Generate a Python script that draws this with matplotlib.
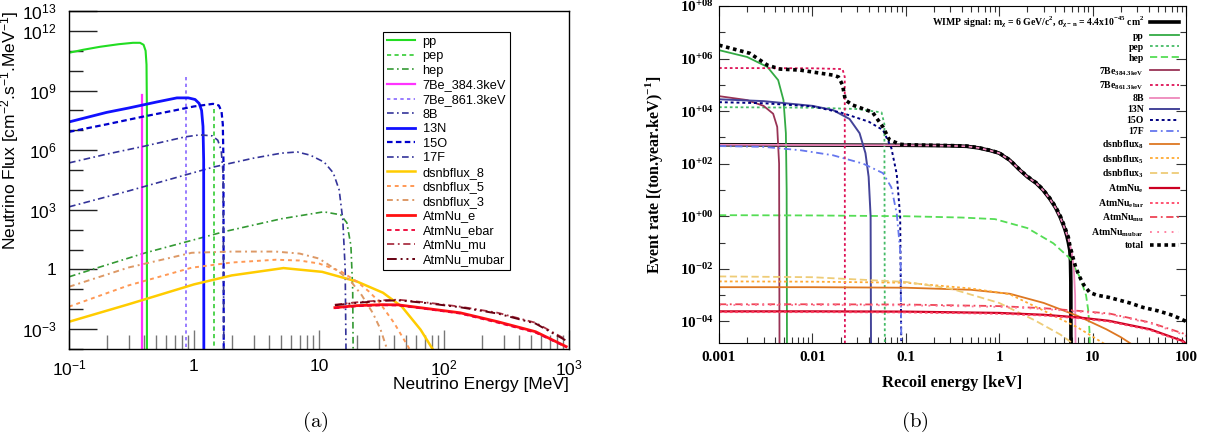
import numpy as np
import matplotlib
matplotlib.use('Agg')
from matplotlib import pyplot as plt
from matplotlib.ticker import FixedLocator, FixedFormatter, LogLocator, NullFormatter

plt.rcParams['font.family'] = 'Liberation Sans'
plt.rcParams['mathtext.fontset'] = 'custom'
plt.rcParams['mathtext.rm'] = 'Liberation Sans'
plt.rcParams['mathtext.it'] = 'Liberation Sans:italic'
plt.rcParams['mathtext.bf'] = 'Liberation Serif:bold'

# ---------------- (a) neutrino fluxes : E [MeV], log10(flux)
pp_E = [0.1, 0.13, 0.177, 0.25, 0.325, 0.37, 0.395, 0.41, 0.417, 0.42, 0.4201]
pp_lgF = [10.9, 11.05, 11.2, 11.33, 11.4, 11.4, 11.3, 11.0, 10.3, 8.0, -5]
pep_E = [1.442, 1.442]
pep_lgF = [8.05, -5]
hep_E = [0.1, 0.17, 0.41, 1.74, 5, 10.9, 14.9, 16.7, 18.0, 18.6, 18.8]
hep_lgF = [-0.37, 0.09, 0.84, 1.9, 2.55, 2.9, 2.75, 2.35, 1.2, -1, -5]
be384_E = [0.3843, 0.3843]
be384_lgF = [8.8, -5]
be861_E = [0.8613, 0.8613]
be861_lgF = [9.7, -5]
b8_E = [0.1, 0.3, 0.86, 1.45, 3, 5, 6.7, 8.5, 11, 13, 14.5, 15.5, 16.2, 16.5]
b8_lgF = [3.15, 3.95, 4.76, 5.16, 5.6, 5.85, 5.91, 5.75, 5.4, 4.86, 4.0, 2.5, 0, -5]
n13_E = [0.1, 0.2, 0.3, 0.5, 0.73, 0.9, 1.02, 1.1, 1.15, 1.18, 1.195, 1.199]
n13_lgF = [7.42, 7.9, 8.12, 8.42, 8.63, 8.63, 8.55, 8.35, 8.0, 7.2, 5.5, -5]
o15_E = [0.1, 0.2, 0.4, 0.7, 1.0, 1.42, 1.58, 1.66, 1.70, 1.72, 1.73]
o15_lgF = [6.92, 7.3, 7.7, 8.0, 8.2, 8.33, 8.25, 7.95, 7.3, 5.5, -5]
f17_E = [0.1, 0.2, 0.4, 0.85, 1.11, 1.4, 1.55, 1.65, 1.71, 1.735]
f17_lgF = [5.36, 5.8, 6.2, 6.67, 6.77, 6.72, 6.5, 6.0, 4.8, -5]
dsnb8_E = [0.1, 0.3, 1, 2, 5.2, 10.6, 20, 32.5, 46, 65, 81]
dsnb8_lgF = [-2.63, -1.75, -0.75, -0.3, 0.07, -0.12, -0.6, -1.17, -1.87, -3.03, -4.0]
dsnb5_E = [0.1, 0.3, 0.96, 2, 4.5, 7, 10, 15, 20, 25, 30, 40, 53]
dsnb5_lgF = [-1.87, -0.8, 0.09, 0.35, 0.49, 0.45, 0.3, -0.1, -0.6, -1.1, -1.6, -2.7, -4.0]
dsnb3_E = [0.1, 0.3, 0.96, 2, 4.5, 7, 10, 14, 18, 22, 27, 31, 35]
dsnb3_lgF = [-0.87, 0.1, 0.84, 0.9, 0.9, 0.8, 0.55, -0.05, -0.6, -1.3, -2.2, -3.0, -4.0]
atm_E = [13.4, 20, 32, 43, 70, 135, 270, 540, 950]
atm_e_lgF = [-1.92, -1.82, -1.77, -1.78, -1.95, -2.18, -2.63, -3.13, -3.88]
atm_ebar_lgF = [-1.95, -1.85, -1.8, -1.81, -1.98, -2.22, -2.68, -3.18, -3.9]
atm_mu_lgF = [-1.77, -1.65, -1.55, -1.52, -1.65, -1.87, -2.18, -2.68, -3.53]
atm_mubar_lgF = [-1.8, -1.68, -1.58, -1.55, -1.68, -1.9, -2.22, -2.72, -3.58]

# ---------------- (b) event rates : recoil E [keV], log10(rate)
wimp_E = [0.001, 0.01, 0.1, 0.2, 0.3, 0.45, 0.6, 0.8, 1.0, 1.3, 1.67, 2.0, 2.5, 2.94,
          3.5, 4.0, 4.5, 5.0, 5.3, 5.5, 5.7, 5.8, 5.85, 5.87]
wimp_lgR = [2.72, 2.71, 2.70, 2.69, 2.68, 2.66, 2.6, 2.5, 2.4, 2.13, 1.75, 1.5, 1.25, 1.0,
            0.65, 0.33, -0.04, -0.45, -0.75, -1.0, -1.3, -1.7, -2.5, -6]
r_pp_E = [0.001, 0.002, 0.0033, 0.0043, 0.0049, 0.0052, 0.0053, 0.00535]
r_pp_lgR = [6.32, 6.06, 5.68, 5.18, 4.42, 3.16, 1.0, -6]
r_pep_E = [0.001, 0.01, 0.03, 0.055, 0.059, 0.0597]
r_pep_lgR = [4.15, 4.13, 4.08, 3.95, 3.5, -6]
r_hep_E = [0.001, 0.01, 0.1, 0.4, 0.9, 2, 3.8, 5.7, 7.3, 8.5, 9.0, 9.3, 9.35]
r_hep_lgR = [0.04, 0.03, 0.0, -0.05, -0.11, -0.45, -1.03, -1.6, -2.32, -3.0, -3.6, -4.5, -6]
r_be384_E = [0.001, 0.002, 0.003, 0.0038, 0.0042, 0.0044, 0.00445]
r_be384_lgR = [4.57, 4.42, 4.2, 3.9, 3.4, 2.0, -6]
r_be861_E = [0.001, 0.01, 0.021, 0.0222, 0.0223]
r_be861_lgR = [5.64, 5.63, 5.6, 5.3, -6]
r_b8_E = [0.001, 0.01, 0.1, 0.2, 0.3, 0.45, 0.6, 0.8, 1.0, 1.3, 1.67, 2.0, 2.5, 2.94,
          3.5, 4.0, 4.5, 5.0, 5.5, 6.0, 6.3, 6.5, 6.6]
r_b8_lgR = [2.72, 2.71, 2.70, 2.69, 2.68, 2.66, 2.6, 2.5, 2.4, 2.13, 1.75, 1.5, 1.25, 1.0,
            0.65, 0.33, -0.04, -0.45, -0.85, -1.4, -2.0, -3.0, -6]
r_n13_E = [0.001, 0.003, 0.01, 0.0166, 0.025, 0.032, 0.037, 0.040, 0.042, 0.0425]
r_n13_lgR = [4.45, 4.38, 4.2, 4.04, 3.7, 3.16, 2.4, 1.5, 0.0, -6]
r_o15_E = [0.001, 0.003, 0.01, 0.02, 0.04, 0.057, 0.07, 0.08, 0.087, 0.09]
r_o15_lgR = [4.34, 4.3, 4.18, 3.95, 3.6, 3.28, 2.6, 1.6, 0.0, -6]
r_f17_E = [0.001, 0.003, 0.0075, 0.0166, 0.035, 0.057, 0.07, 0.08, 0.088, 0.09]
r_f17_lgR = [2.67, 2.64, 2.51, 2.32, 2.0, 1.64, 1.1, 0.1, -1.5, -6]
r_dsnb8_E = [0.001, 0.01, 0.1, 0.5, 1.3, 3, 7, 14, 20, 27]
r_dsnb8_lgR = [-2.7, -2.7, -2.72, -2.8, -2.95, -3.3, -3.8, -4.3, -4.6, -4.9]
r_dsnb5_E = [0.001, 0.01, 0.1, 0.5, 1.3, 2.94, 6.9, 14]
r_dsnb5_lgR = [-2.48, -2.49, -2.53, -2.75, -2.97, -3.58, -4.23, -4.9]
r_dsnb3_E = [0.001, 0.01, 0.1, 0.3, 1.0, 2.4, 4.5, 6.5]
r_dsnb3_lgR = [-2.29, -2.32, -2.5, -2.75, -3.3, -3.96, -4.5, -4.9]
r_atm_E = [0.001, 0.01, 0.1, 1, 3, 7, 15, 41, 93, 100]
r_atm_e_lgR = [-3.62, -3.62, -3.63, -3.68, -3.75, -3.85, -3.98, -4.3, -4.75, -4.85]
r_atm_ebar_lgR = [-3.65, -3.65, -3.66, -3.71, -3.78, -3.88, -4.01, -4.33, -4.78, -4.88]
r_atm_mu_lgR = [-3.35, -3.35, -3.36, -3.42, -3.5, -3.6, -3.7, -4.04, -4.46, -4.52]
r_atm_mubar_lgR = [-3.38, -3.38, -3.39, -3.45, -3.53, -3.63, -3.73, -4.07, -4.5, -4.56]
total_E = [0.001, 0.00214, 0.0033, 0.0045, 0.0074, 0.0166, 0.019, 0.021, 0.0225, 0.027,
           0.044, 0.057, 0.067, 0.087, 0.1, 0.2, 0.3, 0.45, 0.6, 0.8, 1.0, 1.3, 1.67, 2.0,
           2.5, 2.94, 3.5, 4.0, 4.5, 5.0, 5.5, 5.7, 6.2, 6.6, 7.3, 8.0, 9.3, 11, 15, 25,
           34.7, 50, 72, 100]
total_lgR = [6.51, 6.2, 5.75, 5.6, 5.56, 5.37, 5.3, 5.0, 4.42, 4.23,
             3.96, 3.39, 2.9, 2.74, 2.72, 2.70, 2.69, 2.67, 2.61, 2.51, 2.41, 2.14, 1.76, 1.52,
             1.27, 1.02, 0.68, 0.37, 0.02, -0.38, -0.8, -1.1, -1.6, -1.95, -2.32, -2.6, -2.9,
             -3.0, -3.09, -3.3, -3.47, -3.6, -3.77, -4.0]

fig = plt.figure(figsize=(12.21, 4.43), dpi=100)

# ================= panel (a)
ax1 = fig.add_axes([69/1221, 1-349/443, 500/1221, 338/443])
left_series = [
    (pp_E, pp_lgF, 'pp', '#22dd22', '-', 1.5),
    (pep_E, pep_lgF, 'pep', '#33cc33', (0, (2.5, 2)), 1.2),
    (hep_E, hep_lgF, 'hep', '#339933', (0, (4, 2, 1, 2)), 1.2),
    (be384_E, be384_lgF, '7Be_384.3keV', '#ff33ff', '-', 1.6),
    (be861_E, be861_lgF, '7Be_861.3keV', '#8866ff', (0, (2, 2)), 1.2),
    (b8_E, b8_lgF, '8B', '#333399', (0, (4, 2, 1, 2)), 1.2),
    (n13_E, n13_lgF, '13N', '#1111ff', '-', 2.0),
    (o15_E, o15_lgF, '15O', '#0000cc', (0, (2.5, 1.5)), 1.6),
    (f17_E, f17_lgF, '17F', '#333399', (0, (4, 2, 1, 2)), 1.2),
    (dsnb8_E, dsnb8_lgF, 'dsnbflux_8', '#ffcc00', '-', 1.8),
    (dsnb5_E, dsnb5_lgF, 'dsnbflux_5', '#ff9955', (0, (2, 2)), 1.4),
    (dsnb3_E, dsnb3_lgF, 'dsnbflux_3', '#dd9966', (0, (3, 2, 1, 2)), 1.4),
    (atm_E, atm_e_lgF, 'AtmNu_e', '#ff1111', '-', 2.0),
    (atm_E, atm_ebar_lgF, 'AtmNu_ebar', '#ee0033', (0, (2.5, 2)), 1.3),
    (atm_E, atm_mu_lgF, 'AtmNu_mu', '#aa3344', (0, (4, 2, 1, 2)), 1.3),
    (atm_E, atm_mubar_lgF, 'AtmNu_mubar', '#660011', (0, (5, 2, 1, 2, 1, 2)), 1.4),
]
for E, lg, lab, col, ls, lw in left_series:
    ax1.plot(E, 10.0**np.array(lg), color=col, linestyle=ls, linewidth=lw, label=lab)

ax1.set_xscale('log')
ax1.set_yscale('log')
ax1.set_xlim(0.1, 1000)
ax1.set_ylim(1e-4, 1e13)
ax1.xaxis.set_major_locator(FixedLocator([0.1, 1, 10, 100, 1000]))
ax1.xaxis.set_major_formatter(FixedFormatter(['10$^{-1}$', '1', '10', '10$^{2}$', '10$^{3}$']))
ax1.xaxis.set_minor_locator(LogLocator(base=10, subs=range(2, 10), numticks=50))
ax1.xaxis.set_minor_formatter(NullFormatter())
ax1.yaxis.set_major_locator(FixedLocator([1e-3, 1, 1e3, 1e6, 1e9, 1e12, 1e13]))
ax1.yaxis.set_major_formatter(FixedFormatter(['10$^{-3}$', '1', '10$^{3}$', '10$^{6}$',
                                              '10$^{9}$', '10$^{12}$', '10$^{13}$']))
ax1.yaxis.set_minor_locator(FixedLocator([10.0**k for k in range(-4, 13)]))
ax1.yaxis.set_minor_formatter(NullFormatter())
ax1.tick_params(axis='x', which='both', direction='in', colors='#777777', labelcolor='black',
                labelsize=12.5, pad=7)
ax1.tick_params(axis='x', which='major', length=14, width=1)
ax1.tick_params(axis='x', which='minor', length=10, width=1)
ax1.tick_params(axis='y', which='both', direction='in', color='#222222', labelsize=12.5, pad=9)
ax1.tick_params(axis='y', which='major', length=20, width=1)
ax1.tick_params(axis='y', which='minor', length=10, width=1)
for s in ax1.spines.values():
    s.set_linewidth(1.0)
ax1.set_xlabel('Neutrino Energy [MeV]', fontsize=12.5, loc='right')
ax1.xaxis.set_label_coords(1.0, -0.082)
ax1.set_ylabel('Neutrino Flux [cm$^{-2}$.s$^{-1}$.MeV$^{-1}$]', fontsize=12.5, loc='top')
ax1.yaxis.set_label_coords(-0.095, 1.0)
leg1 = ax1.legend(loc='upper left', bbox_to_anchor=(0.628, 0.938), fontsize=9.2,
                  handlelength=2.2, handletextpad=0.6, labelspacing=0.2, borderpad=0.3,
                  borderaxespad=0, frameon=True, fancybox=False, edgecolor='black',
                  framealpha=1)
leg1.get_frame().set_linewidth(0.8)

# ================= panel (b)
ax2 = fig.add_axes([719/1221, 1-343/443, 467/1221, 337/443])
wimp_label = (r'WIMP signal: m$_{\mathbf{\chi}}$ = 6 GeV/c$^{\mathbf{2}}$, '
              r'$\mathbf{\sigma_{\chi-n}}$ = 4.4x10$^{\mathbf{-45}}$ cm$^{\mathbf{2}}$')
right_series = [
    (wimp_E, wimp_lgR, wimp_label, 'black', '-', 2.6),
    (r_pp_E, r_pp_lgR, 'pp', '#33aa44', '-', 1.3),
    (r_pep_E, r_pep_lgR, 'pep', '#44bb66', (0, (1.5, 1.5)), 1.3),
    (r_hep_E, r_hep_lgR, 'hep', '#55dd55', (0, (4, 2)), 1.3),
    (r_be384_E, r_be384_lgR, '7Be$_{\\mathbf{384.3keV}}$', '#993355', '-', 1.3),
    (r_be861_E, r_be861_lgR, '7Be$_{\\mathbf{861.3keV}}$', '#dd1155', (0, (1.5, 1.5)), 1.3),
    (r_b8_E, r_b8_lgR, '8B', '#ee88bb', '-', 1.3),
    (r_n13_E, r_n13_lgR, '13N', '#444499', '-', 1.4),
    (r_o15_E, r_o15_lgR, '15O', '#000080', (0, (1.5, 1.5)), 1.4),
    (r_f17_E, r_f17_lgR, '17F', '#6677ee', (0, (4, 2, 1, 2)), 1.3),
    (r_dsnb8_E, r_dsnb8_lgR, 'dsnbflux$_{\\mathbf{8}}$', '#dd7722', '-', 1.3),
    (r_dsnb5_E, r_dsnb5_lgR, 'dsnbflux$_{\\mathbf{5}}$', '#ffaa33', (0, (1.5, 1.5)), 1.3),
    (r_dsnb3_E, r_dsnb3_lgR, 'dsnbflux$_{\\mathbf{3}}$', '#eecc77', (0, (4, 2)), 1.3),
    (r_atm_E, r_atm_e_lgR, 'AtmNu$_{\\mathbf{e}}$', '#cc0022', '-', 1.6),
    (r_atm_E, r_atm_ebar_lgR, 'AtmNu$_{\\mathbf{ebar}}$', '#ff4466', (0, (1.5, 1.5)), 1.3),
    (r_atm_E, r_atm_mu_lgR, 'AtmNu$_{\\mathbf{mu}}$', '#ee4455', (0, (4, 2, 1, 2)), 1.3),
    (r_atm_E, r_atm_mubar_lgR, 'AtmNu$_{\\mathbf{mubar}}$', '#ff7799', (0, (1, 3)), 1.3),
    (total_E, total_lgR, 'total', 'black', (0, (1, 1)), 2.6),
]
for E, lg, lab, col, ls, lw in right_series:
    ax2.plot(E, 10.0**np.array(lg), color=col, linestyle=ls, linewidth=lw, label=lab)

ax2.set_xscale('log')
ax2.set_yscale('log')
ax2.set_xlim(0.001, 100)
ax2.set_ylim(1.5e-5, 1e8)
ax2.xaxis.set_major_locator(FixedLocator([0.001, 0.01, 0.1, 1, 10, 100]))
ax2.xaxis.set_major_formatter(FixedFormatter(['0.001', '0.01', '0.1', '1', '10', '100']))
ax2.xaxis.set_minor_locator(LogLocator(base=10, subs=range(2, 10), numticks=50))
ax2.xaxis.set_minor_formatter(NullFormatter())
ax2.yaxis.set_major_locator(FixedLocator([1e-4, 1e-2, 1, 1e2, 1e4, 1e6, 1e8]))
ax2.yaxis.set_major_formatter(FixedFormatter([r'$\mathbf{10^{-04}}$', r'$\mathbf{10^{-02}}$',
                                              r'$\mathbf{10^{+00}}$', r'$\mathbf{10^{+02}}$',
                                              r'$\mathbf{10^{+04}}$', r'$\mathbf{10^{+06}}$',
                                              r'$\mathbf{10^{+08}}$']))
ax2.yaxis.set_minor_locator(FixedLocator([1e-3, 0.1, 10, 1e3, 1e5, 1e7]))
ax2.yaxis.set_minor_formatter(NullFormatter())
ax2.tick_params(which='both', direction='in', top=True, right=True, color='#333333',
                labelsize=11, width=0.8)
ax2.tick_params(which='major', length=7)
ax2.tick_params(which='minor', length=4)
ax2.tick_params(axis='x', pad=6)
ax2.tick_params(axis='y', pad=4)
for lab in ax2.get_xticklabels():
    lab.set_fontfamily('Liberation Serif')
    lab.set_fontweight('bold')
ax2.set_xlabel('Recoil energy [keV]', fontsize=12, fontfamily='Liberation Serif',
               fontweight='bold')
ax2.xaxis.set_label_coords(0.5, -0.095)
ax2.set_ylabel(r'Event rate [(ton.year.keV)$^{\mathbf{-1}}$]', fontsize=11.5,
               fontfamily='Liberation Serif', fontweight='bold')
ax2.yaxis.set_label_coords(-0.115, 0.5)
leg2 = ax2.legend(loc='upper right', bbox_to_anchor=(0.985, 0.975), markerfirst=False,
                  frameon=False, prop={'family': 'Liberation Serif', 'weight': 'bold', 'size': 7},
                  handlelength=3.0, handletextpad=0.6, labelspacing=0.2, borderpad=0,
                  borderaxespad=0)

fig.text(315/1221, 1-422/443, r'$\mathrm{(a)}$', math_fontfamily='cm', fontsize=15,
         ha='center', va='center')
fig.text(915/1221, 1-422/443, r'$\mathrm{(b)}$', math_fontfamily='cm', fontsize=15,
         ha='center', va='center')

fig.savefig('out.png', dpi=100)
